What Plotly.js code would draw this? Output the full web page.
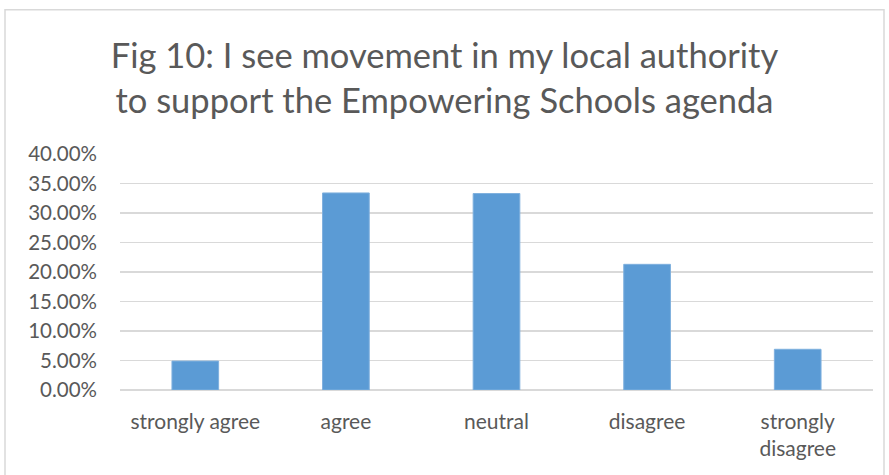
<!DOCTYPE html>
<html>
<head>
<meta charset="utf-8">
<script src="https://cdn.plot.ly/plotly-3.0.1.min.js"></script>
<style>html,body{margin:0;padding:0;background:#fff;}#chart{width:889px;height:475px;}</style>
</head>
<body>
<div id="chart"></div>
<script>
const categories = ["strongly agree", "agree", "neutral", "disagree", "strongly<br>disagree"];
const values = [0.049, 0.334, 0.333, 0.213, 0.069];
const titleText = "Fig 10: I see movement in my local authority<br>to support the Empowering Schools agenda";

const fontFam = "Lato, 'Open Sans', sans-serif";
const data = [{
  type: "bar",
  x: categories,
  y: values,
  marker: {color: "#5b9bd5", line: {color: "#7fb0de", width: 1}},
  hoverinfo: "x+y"
}];
const layout = {
  width: 889, height: 475,
  margin: {l: 120, r: 16, t: 153.5, b: 85},
  paper_bgcolor: "#fff", plot_bgcolor: "#fff",
  bargap: 0.69,
  showlegend: false,
  font: {family: fontFam, color: "#595959"},
  title: {
    text: titleText,
    font: {family: fontFam, size: 34.5, color: "#595959"},
    x: 0.5, xref: "container", xanchor: "center",
    y: 1 - 68/475, yref: "container", yanchor: "top"
  },
  xaxis: {
    type: "category",
    showgrid: false, zeroline: false, showline: false,
    ticks: "", tickfont: {size: 21, color: "#595959", family: fontFam},
    ticklabelstandoff: 17
  },
  yaxis: {
    range: [0, 0.4], dtick: 0.05, tickformat: ".2%",
    showgrid: true, gridcolor: "#d9d9d9", gridwidth: 1.5,
    zeroline: true, zerolinecolor: "#d9d9d9", zerolinewidth: 1.5,
    showline: false, ticks: "",
    tickfont: {size: 20.5, color: "#595959", family: fontFam},
    ticklabelstandoff: 22
  },
  shapes: [{
    type: "rect", xref: "paper", yref: "paper",
    x0: (5-120)/753, x1: (884-120)/753,
    y0: -0.5, y1: (390-9)/236.5,
    line: {color: "#d9d9d9", width: 1.5}, fillcolor: "rgba(0,0,0,0)", layer: "below"
  }]
};
Plotly.newPlot("chart", data, layout, {displayModeBar: false, staticPlot: true});
</script>
</body>
</html>
